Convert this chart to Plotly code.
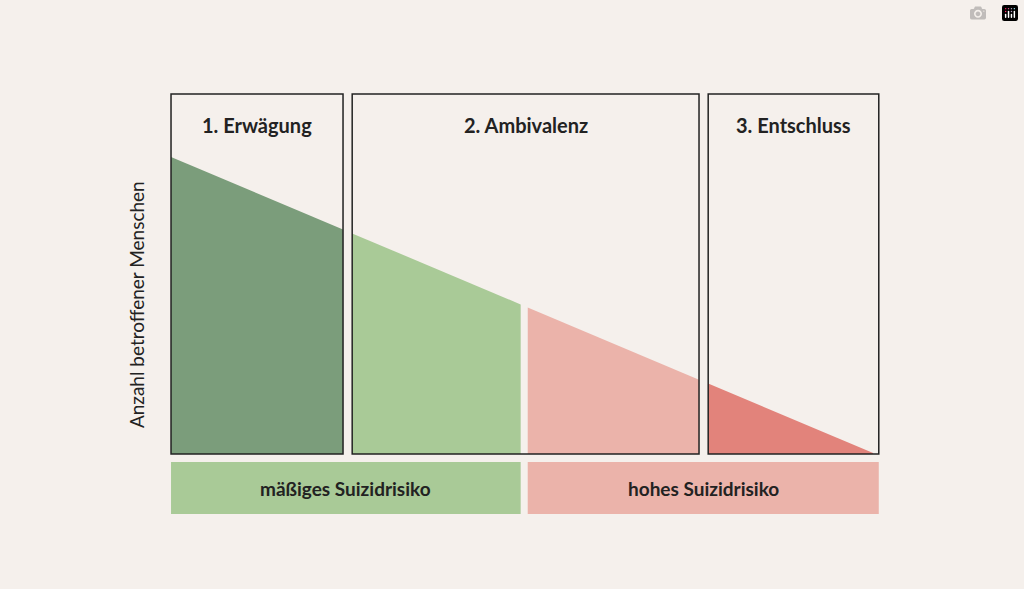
import plotly.graph_objects as go

# stages along a 0..100 progression axis
stage_names = ["1. Erwägung", "2. Ambivalenz", "3. Entschluss"]
stage_start = [0, 25.7, 76.2]
stage_end = [24.4, 74.9, 100.4]
stage_top = 121.2

# filled segments of the declining number of people
seg_start = [0, 25.7, 50.6, 76.2]
seg_end = [24.4, 49.6, 74.9, 99.6]
seg_colors = ["#7b9d7b", "#a9ca97", "#ebb3aa", "#e2837b"]

# risk bars
risk_labels = ["mäßiges Suizidrisiko", "hohes Suizidrisiko"]
risk_start = [0, 50.6]
risk_end = [49.6, 100.4]
risk_colors = ["#a9ca97", "#ebb3aa"]
risk_bottom, risk_top = -20.2, -2.7

people_start = 100
people_end_x = 99.9

def people(x):
    return people_start * (1 - x / people_end_x)

bg = "#f5f0ec"
fig = go.Figure()

for s, e, c in zip(seg_start, seg_end, seg_colors):
    fig.add_trace(go.Scatter(
        x=[s, s, e, e, s], y=[0, people(s), people(e), 0, 0],
        fill="toself", fillcolor=c, mode="lines", line=dict(width=0),
        hoverinfo="skip", showlegend=False))

shapes = []
annotations = []
for name, s, e in zip(stage_names, stage_start, stage_end):
    shapes.append(dict(type="rect", x0=s, x1=e, y0=0, y1=stage_top,
                       line=dict(color="#222222", width=1.5)))
    annotations.append(dict(x=(s + e) / 2, y=110.8, text="<b>%s</b>" % name,
                            showarrow=False, font=dict(size=20, color="#222222")))

for label, s, e, c in zip(risk_labels, risk_start, risk_end, risk_colors):
    shapes.append(dict(type="rect", x0=s, x1=e, y0=risk_bottom, y1=risk_top,
                       fillcolor=c, line=dict(width=0), layer="below"))
    annotations.append(dict(x=(s + e) / 2, y=(risk_bottom + risk_top) / 2,
                            text="<b>%s</b>" % label, showarrow=False,
                            font=dict(size=19, color="#222222")))

annotations.append(dict(x=-4.8, y=50.2, text="Anzahl betroffener Menschen",
                        textangle=-90, showarrow=False,
                        font=dict(size=19, color="#222222")))

fig.update_layout(
    width=1024, height=589,
    margin=dict(l=0, r=0, t=0, b=0),
    paper_bgcolor=bg, plot_bgcolor=bg,
    font=dict(family="Lato, sans-serif"),
    xaxis=dict(range=[-24.26, 121.0], visible=False, fixedrange=True),
    yaxis=dict(range=[-45.45, 152.86], visible=False, fixedrange=True),
    shapes=shapes, annotations=annotations,
)

fig.write_html("out.html", post_script="document.body.style.margin='0';")
